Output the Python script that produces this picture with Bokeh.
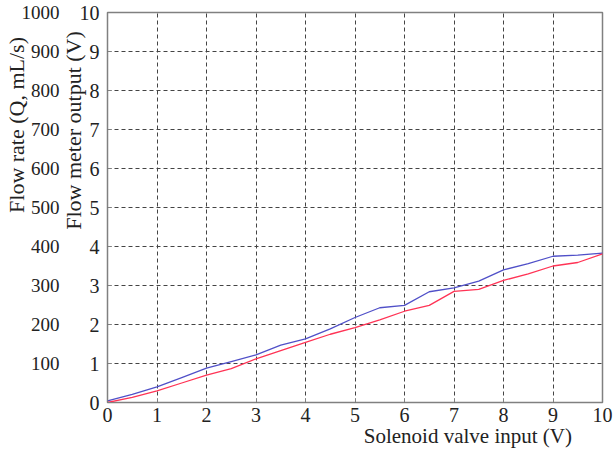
from bokeh.plotting import figure
from bokeh.models import LinearAxis, Range1d, FixedTicker
from bokeh.embed import file_html
from bokeh.resources import INLINE

# Data
valve_input = [0, 0.5, 1, 1.5, 2, 2.5, 3, 3.5, 4, 4.5, 5, 5.5, 6, 6.5, 7, 7.5, 8, 8.5, 9, 9.5, 10]
meter_blue = [0.04, 0.21, 0.40, 0.64, 0.88, 1.05, 1.22, 1.47, 1.63, 1.89, 2.18, 2.43, 2.49, 2.84,
              2.94, 3.11, 3.40, 3.56, 3.75, 3.78, 3.83]
meter_red = [0.0, 0.13, 0.30, 0.50, 0.70, 0.87, 1.12, 1.33, 1.54, 1.75, 1.92, 2.12, 2.34, 2.49,
             2.85, 2.90, 3.13, 3.30, 3.50, 3.59, 3.81]
x_ticks = [0, 1, 2, 3, 4, 5, 6, 7, 8, 9, 10]
volt_ticks = [0, 1, 2, 3, 4, 5, 6, 7, 8, 9, 10]
flow_ticks = [100, 200, 300, 400, 500, 600, 700, 800, 900, 1000]
x_label = "Solenoid valve input (V)"
volt_label = "Flow meter output (V)"
flow_label = "Flow rate (Q, mL/s)"

FONT = "Liberation Serif"
NB = "\u00a0"

p = figure(width=614, height=454, x_range=Range1d(0, 10), y_range=Range1d(0, 10),
           output_backend="svg", toolbar_location=None,
           min_border_left=107, min_border_right=12, min_border_top=12, min_border_bottom=52)
p.background_fill_color = "white"
p.border_fill_color = "white"
p.outline_line_color = "#808080"
p.outline_line_width = 1.5

p.extra_y_ranges = {"flow": Range1d(0, 1000)}

for g in (p.xgrid, p.ygrid):
    g.grid_line_color = "#444444"
    g.grid_line_dash = "4 3"
    g.grid_line_width = 1
p.xgrid.ticker = FixedTicker(ticks=x_ticks)
p.ygrid.ticker = FixedTicker(ticks=volt_ticks)


def style_axis(ax, size="20px", label_size="22px"):
    ax.axis_line_color = None
    ax.minor_tick_line_color = None
    ax.major_label_text_font = FONT
    ax.major_label_text_font_size = size
    ax.major_label_text_color = "#222222"
    ax.axis_label_text_font = FONT
    ax.axis_label_text_font_size = label_size
    ax.axis_label_text_font_style = "normal"
    ax.axis_label_text_color = "#222222"


xa = p.xaxis[0]
xa.ticker = FixedTicker(ticks=x_ticks)
style_axis(xa, label_size="21px")
xa.major_tick_in = 4
xa.major_tick_out = 0
xa.major_tick_line_color = "#808080"
xa.major_label_standoff = 5
xa.axis_label = NB * 43 + x_label
xa.axis_label_standoff = -1

ya = p.yaxis[0]
ya.ticker = FixedTicker(ticks=volt_ticks)
style_axis(ya)
ya.major_tick_in = 4
ya.major_tick_out = 0
ya.major_tick_line_color = "#808080"
ya.major_label_standoff = 8
ya.axis_label = NB * 28 + volt_label
ya.axis_label_standoff = -9

fa = LinearAxis(y_range_name="flow", ticker=FixedTicker(ticks=flow_ticks))
style_axis(fa, "19px")
fa.major_tick_line_color = None
fa.major_tick_in = 0
fa.major_tick_out = 0
fa.major_label_standoff = -2
fa.axis_label = NB * 30 + flow_label
fa.axis_label_standoff = -10
p.add_layout(fa, "left")

p.line(valve_input, meter_blue, line_color="#5050c8", line_width=1.3)
p.line(valve_input, meter_red, line_color="#ff3355", line_width=1.3)

open("out.html", "w").write(file_html(p, INLINE))
